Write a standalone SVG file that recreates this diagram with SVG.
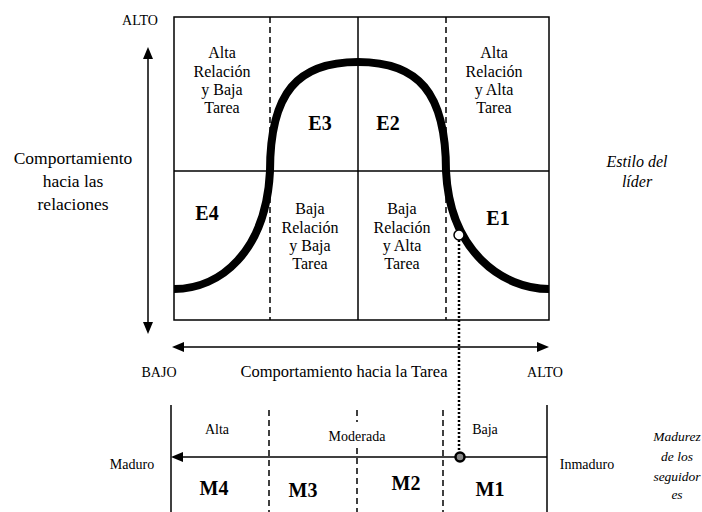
<svg xmlns="http://www.w3.org/2000/svg" width="702" height="512" viewBox="0 0 702 512">
<style>
text{font-family:"Liberation Serif","Times New Roman",serif;fill:#000;text-anchor:middle}
.lbl{font-size:16px}
.sm{font-size:14px}
.e{font-size:20px;font-weight:bold}
.it{font-style:italic;font-size:16px}
.ln{stroke:#000;stroke-width:1.5;fill:none}
.dash{stroke:#000;stroke-width:1.5;stroke-dasharray:6 4;fill:none}
</style>
<rect width="702" height="512" fill="#fff"/>

<g id="grid">
<rect x="174" y="17" width="375" height="303" class="ln"/>
<line x1="174" y1="171" x2="549" y2="171" class="ln"/>
<line x1="358" y1="17" x2="358" y2="320" class="ln"/>
<line x1="270" y1="17" x2="270" y2="320" class="dash"/>
<line x1="446" y1="17" x2="446" y2="320" class="dash"/>
</g>

<g id="curve">
<path d="M174,289 C220,289 266,252 270,171 C270,92 298,62 358,62 C418,62 446,92 446,171 C450,252 503,289 549,289" fill="none" stroke="#000" stroke-width="8"/>
</g>

<g id="connectors">
<line x1="148" y1="58" x2="148" y2="323" class="ln"/>
<path d="M148,47 L143,59 L153,59 Z" fill="#000"/>
<path d="M148,334 L143,322 L153,322 Z" fill="#000"/>
<line x1="183" y1="347" x2="538" y2="347" class="ln"/>
<path d="M172,347 L184,342 L184,352 Z" fill="#000"/>
<path d="M549,347 L537,342 L537,352 Z" fill="#000"/>
<line x1="459" y1="240" x2="459" y2="452" stroke="#000" stroke-width="2.5" stroke-dasharray="2 2"/>
<line x1="182" y1="457" x2="547" y2="457" class="ln"/>
<path d="M171,457 L183,452 L183,462 Z" fill="#000"/>
</g>

<g id="point-e1">
<circle cx="459" cy="235" r="5" fill="#fff" stroke="#000" stroke-width="1.5"/>
</g>

<g id="maturity">
<line x1="171" y1="405" x2="171" y2="512" class="ln"/>
<line x1="547" y1="405" x2="547" y2="512" class="ln"/>
<line x1="269" y1="410" x2="269" y2="512" class="dash"/>
<line x1="357" y1="410" x2="357" y2="422" class="dash"/>
<line x1="357" y1="448" x2="357" y2="512" class="dash"/>
<line x1="443" y1="410" x2="443" y2="512" class="dash"/>
<circle cx="460" cy="457" r="4.5" fill="#888" stroke="#000" stroke-width="2.5"/>
</g>

<g id="labels">
<text x="140" y="25" class="sm">ALTO</text>
<text x="222" y="58" class="lbl">Alta</text>
<text x="222" y="77" class="lbl">Relación</text>
<text x="222" y="95" class="lbl">y Baja</text>
<text x="222" y="113" class="lbl">Tarea</text>
<text x="494" y="58" class="lbl">Alta</text>
<text x="494" y="77" class="lbl">Relación</text>
<text x="494" y="95" class="lbl">y Alta</text>
<text x="494" y="113" class="lbl">Tarea</text>
<text x="310" y="214" class="lbl">Baja</text>
<text x="310" y="233" class="lbl">Relación</text>
<text x="310" y="251" class="lbl">y Baja</text>
<text x="310" y="269" class="lbl">Tarea</text>
<text x="402" y="214" class="lbl">Baja</text>
<text x="402" y="233" class="lbl">Relación</text>
<text x="402" y="251" class="lbl">y Alta</text>
<text x="402" y="269" class="lbl">Tarea</text>
<text x="320" y="130" class="e">E3</text>
<text x="388" y="130" class="e">E2</text>
<text x="207" y="220" class="e">E4</text>
<text x="498" y="225" class="e">E1</text>
<text x="73" y="164" style="font-size:17.5px">Comportamiento</text>
<text x="73" y="187" style="font-size:17.5px">hacia las</text>
<text x="73" y="210" style="font-size:17.5px">relaciones</text>
<text x="637" y="167" class="it">Estilo del</text>
<text x="637" y="187" class="it">líder</text>
<text x="159" y="377" class="sm">BAJO</text>
<text x="344" y="377" style="font-size:16.5px">Comportamiento hacia la Tarea</text>
<text x="545" y="377" class="sm">ALTO</text>
<text x="217" y="434" class="sm">Alta</text>
<text x="357" y="441" class="sm">Moderada</text>
<text x="485" y="434" class="sm">Baja</text>
<text x="132" y="469" class="sm">Maduro</text>
<text x="587" y="469" class="sm">Inmaduro</text>
<text x="214" y="495" class="e">M4</text>
<text x="303" y="497" class="e">M3</text>
<text x="406" y="490" class="e">M2</text>
<text x="490" y="496" class="e">M1</text>
<text x="677" y="441" class="it" style="font-size:13.5px">Madurez</text>
<text x="677" y="461" class="it" style="font-size:13.5px">de los</text>
<text x="677" y="481" class="it" style="font-size:13.5px">seguidor</text>
<text x="677" y="499" class="it" style="font-size:13.5px">es</text>
</g>
</svg>
